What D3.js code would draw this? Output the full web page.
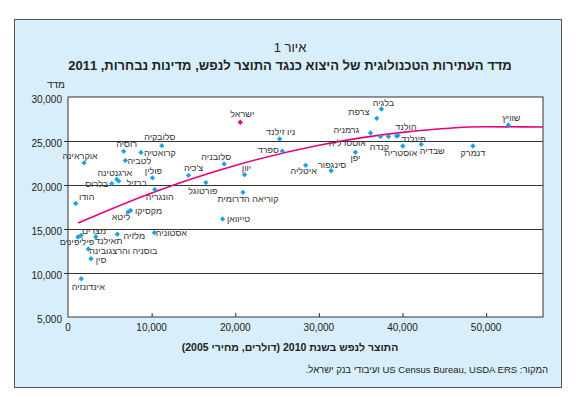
<!DOCTYPE html>
<html>
<head>
<meta charset="utf-8">
<script src="https://cdn.jsdelivr.net/npm/d3@7"></script>
<style>
  body { margin: 0; background: #fff; }
  text { font-family: "Liberation Sans", "DejaVu Sans", sans-serif; }
</style>
</head>
<body>
<svg width="581" height="397"></svg>
<script>
// chart data
var countries = ["ישראל", "סלובקיה", "רוסיה", "קרואטיה", "לטביה", "אוקראינה", "ארגנטינה", "ברזיל", "בלרוס", "פולין",
  "צ'כיה", "סלובניה", "פורטוגל", "הונגריה", "הודו", "יוון", "קוריאה הדרומית", "טייוואן", "ניו זילנד", "ספרד",
  "איטליה", "סינגפור", "יפן", "צרפת", "בלגיה", "גרמניה", "אוסטרליה", "קנדה", "פינלנד", "הולנד",
  "אוסטריה", "שבדיה", "דנמרק", "שוויץ", "מקסיקו", "ליטא", "אסטוניה", "מלזיה", "תאילנד", "מצרים",
  "פיליפינים", "בוסניה והרצגובינה", "סין", "אינדונזיה"];
var gdpPerCapita = [20600, 11220, 6650, 8720, 6860, 1920, 5830, 6070, 5230, 10100,
  14410, 18680, 16490, 10380, 920, 21110, 20920, 18480, 25310, 25630,
  28420, 31460, 34370, 36920, 37480, 36170, 37360, 38320, 39280, 39460,
  40040, 42240, 48420, 52660, 7480, 7180, 10330, 5900, 3320, 1560,
  1200, 2430, 2750, 1590];
var techIndex = [27130, 24470, 23830, 23690, 22780, 22520, 20650, 20450, 20150, 20820,
  21100, 22390, 20280, 19490, 17900, 21170, 19170, 16140, 25230, 23860,
  22240, 21620, 23720, 27580, 28640, 25910, 25490, 25510, 25570, 25620,
  24430, 24620, 24430, 26820, 17100, 16930, 14580, 14400, 14120, 14260,
  14090, 12730, 11620, 9350];

// trend line
var trendGdp = [1200, 10000, 20000, 30000, 40000, 50000, 56800];
var trendIndex = [15680, 19100, 22220, 24520, 25980, 26620, 26590];

var xTicks = [0, 10000, 20000, 30000, 40000, 50000];
var yTicks = [5000, 10000, 15000, 20000, 25000, 30000];

// where each label sits relative to its point (dx of label centre, dy of label centre)
var labelOffsets = {
  "ישראל": [2, -8], "סלובקיה": [-2, -9], "רוסיה": [3, -7], "קרואטיה": [19, 0], "לטביה": [14, 0],
  "אוקראינה": [-4, -7], "ארגנטינה": [-2, -6], "ברזיל": [18, 2], "בלרוס": [-15, 0], "פולין": [1, -7],
  "צ'כיה": [5, -7], "סלובניה": [-8, -7], "פורטוגל": [-3, 8], "הונגריה": [5, 7], "הודו": [11, -7],
  "יוון": [2, -7], "קוריאה הדרומית": [5, 7], "טייוואן": [16, 0], "ניו זילנד": [1, -7], "ספרד": [-14, -1],
  "איטליה": [-2, 6], "סינגפור": [1, -6], "יפן": [0, 6], "צרפת": [-18, -6], "בלגיה": [2, -6],
  "גרמניה": [-24, -3], "אוסטרליה": [-33, 6], "קנדה": [-9, 10], "פינלנד": [17, 3], "הולנד": [8, -9],
  "אוסטריה": [-2, 7], "שבדיה": [11, 7], "דנמרק": [0, 7], "שוויץ": [3, -7], "מקסיקו": [18, 0],
  "ליטא": [-7, 5], "אסטוניה": [17, 0], "מלזיה": [17, 2], "תאילנד": [13, 4], "מצרים": [13, -5],
  "פיליפינים": [-1, 5], "בוסניה והרצגובינה": [35, 2], "סין": [10, 1], "אינדונזיה": [7, 8]
};

var svg = d3.select("svg"),
    plot = {left: 68, right: 543, top: 97, bottom: 317};

// light blue frame
svg.append("rect")
    .attr("x", 14.5).attr("y", 19.5)
    .attr("width", 547).attr("height", 368)
    .attr("fill", "#d8eefa")
    .attr("stroke", "#555");

// titles
svg.append("text")
    .attr("x", 290).attr("y", 52)
    .attr("text-anchor", "middle")
    .attr("font-size", 13).attr("fill", "#222")
    .text("איור 1");

svg.append("text")
    .attr("x", 290).attr("y", 70)
    .attr("text-anchor", "middle").attr("direction", "rtl")
    .attr("font-size", 13).attr("font-weight", "bold").attr("fill", "#222")
    .text("מדד העתירות הטכנולוגית של היצוא כנגד התוצר לנפש, מדינות נבחרות, 2011");

// scales
var x = d3.scaleLinear().domain([0, 56800]).range([plot.left, plot.right]);
var y = d3.scaleLinear().domain([5000, 30000]).range([plot.bottom, plot.top]);

// white plot area
svg.append("rect")
    .attr("x", plot.left).attr("y", plot.top)
    .attr("width", plot.right - plot.left).attr("height", plot.bottom - plot.top)
    .attr("fill", "#fff")
    .attr("stroke", "#333");

// y tick labels
var yAxis = svg.append("g")
    .attr("transform", "translate(" + plot.left + ",2)")
    .call(d3.axisLeft(y).tickValues(yTicks).tickSize(0).tickPadding(6).tickFormat(d3.format(",")));
yAxis.select(".domain").remove();
yAxis.selectAll("text").attr("font-size", 10).attr("fill", "#222").attr("font-family", "Liberation Sans, sans-serif");

// horizontal grid lines (with the small tick out to the left)
svg.append("g")
    .selectAll("line")
    .data(yTicks.filter(function(d) { return d > 5000 && d < 30000; }))
    .enter().append("line")
      .attr("x1", plot.left - 4).attr("x2", plot.right)
      .attr("y1", function(d) { return Math.round(y(d)) + 0.5; })
      .attr("y2", function(d) { return Math.round(y(d)) + 0.5; })
      .attr("stroke", "#333");

// x axis, ticks pointing up
var xAxis = svg.append("g")
    .attr("transform", "translate(0," + plot.bottom + ")")
    .call(d3.axisTop(x).tickValues(xTicks.slice(1)).tickSize(4).tickFormat(""));
xAxis.select(".domain").remove();
xAxis.selectAll("line").attr("stroke", "#333");

svg.append("g")
    .selectAll("text")
    .data(xTicks)
    .enter().append("text")
      .attr("x", function(d) { return x(d); })
      .attr("y", plot.bottom + 14)
      .attr("text-anchor", "middle")
      .attr("font-size", 10).attr("fill", "#222")
      .text(d3.format(","));

// axis titles
svg.append("text")
    .attr("x", 56).attr("y", 88)
    .attr("text-anchor", "middle").attr("direction", "rtl")
    .attr("font-size", 10).attr("fill", "#222")
    .text("מדד");

svg.append("text")
    .attr("x", 290).attr("y", 351)
    .attr("text-anchor", "middle").attr("direction", "rtl")
    .attr("font-size", 10.5).attr("font-weight", "bold").attr("fill", "#222")
    .text("התוצר לנפש בשנת 2010 (דולרים, מחירי 2005)");

var source = svg.append("text")
    .attr("y", 373)
    .attr("text-anchor", "middle").attr("direction", "rtl")
    .attr("font-size", 9.5).attr("fill", "#222")
    .text("המקור: US Census Bureau, USDA ERS ועיבודי בנק ישראל.");
source.attr("x", 548 - source.node().getComputedTextLength() / 2);

// trend line
var trend = trendGdp.map(function(d, i) { return [d, trendIndex[i]]; });
svg.append("path")
    .datum(trend)
    .attr("fill", "none")
    .attr("stroke", "#e5007d")
    .attr("stroke-width", 1.6)
    .attr("d", d3.line()
      .x(function(d) { return x(d[0]); })
      .y(function(d) { return y(d[1]); })
      .curve(d3.curveMonotoneX));

// points
var data = countries.map(function(c, i) {
  return {name: c, gdp: gdpPerCapita[i], index: techIndex[i]};
});

svg.append("g")
    .selectAll("path")
    .data(data)
    .enter().append("path")
      .attr("transform", function(d) { return "translate(" + x(d.gdp) + "," + y(d.index) + ")"; })
      .attr("d", d3.symbol(d3.symbolDiamond2).size(18))
      .attr("fill", function(d) { return d.name == "ישראל" ? "#e5007d" : "#1ea0e6"; });

// labels
svg.append("g")
    .selectAll("text")
    .data(data)
    .enter().append("text")
      .attr("x", function(d) { return x(d.gdp) + labelOffsets[d.name][0]; })
      .attr("y", function(d) { return y(d.index) + labelOffsets[d.name][1]; })
      .attr("dy", "0.35em")
      .attr("text-anchor", "middle").attr("direction", "rtl")
      .attr("font-size", 9).attr("fill", "#333")
      .text(function(d) { return d.name; });
</script>
</body>
</html>
